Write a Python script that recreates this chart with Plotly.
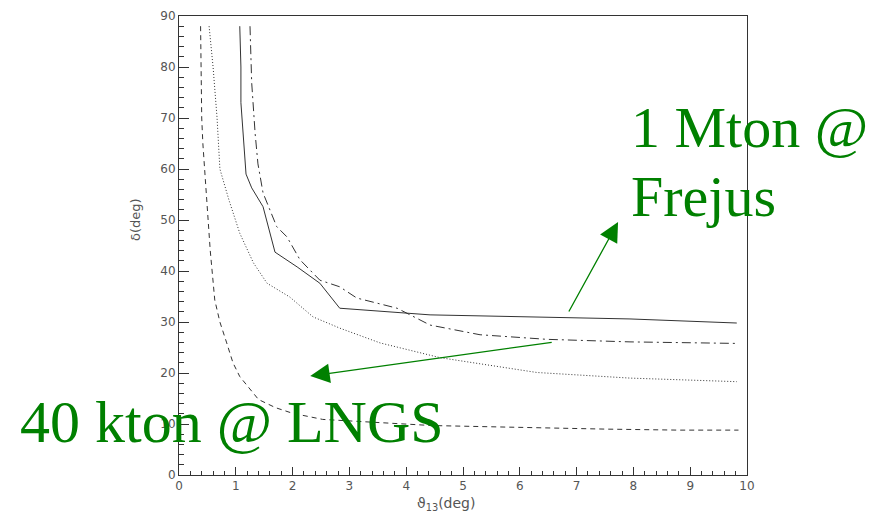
import plotly.graph_objects as go

# theta13 (deg) / delta (deg) sensitivity curves
x_dash = [0.38, 0.39, 0.40, 0.42, 0.44, 0.49, 0.55, 0.63, 0.72, 0.84, 0.95, 1.07, 1.25, 1.40, 1.70, 2.0, 2.53, 3.4, 4.45, 5.3, 6.5, 7.5, 8.8, 9.85]
y_dash = [88, 80, 70, 65, 61.8, 54, 44, 34.3, 30, 25.9, 22, 19.3, 16.8, 14.8, 13.2, 12.1, 10.9, 10.3, 9.7, 9.5, 9.2, 9.0, 8.8, 8.8]

x_dot = [0.53, 0.60, 0.67, 0.72, 0.88, 1.07, 1.31, 1.55, 1.95, 2.36, 2.83, 3.54, 4.6, 6.3, 7.94, 9.82]
y_dot = [88, 80, 70, 60, 53.9, 47.4, 41.6, 37.6, 34.9, 31, 28.8, 25.9, 23, 20.1, 19, 18.3]

x_solid = [1.07, 1.09, 1.09, 1.13, 1.18, 1.28, 1.39, 1.48, 1.69, 2.08, 2.48, 2.83, 4.42, 6.3, 7.94, 9.82]
y_solid = [88, 80, 73, 67, 59, 56.3, 54.3, 52.6, 43.7, 40.8, 37.6, 32.7, 31.4, 31.0, 30.6, 29.8]

x_dashdot = [1.25, 1.28, 1.34, 1.39, 1.48, 1.55, 1.72, 1.90, 2.13, 2.48, 2.83, 3.13, 3.84, 4.42, 5.3, 6.48, 7.94, 9.82]
y_dashdot = [88, 76.9, 67, 61, 55.3, 53.3, 48.7, 46.7, 42.2, 38.2, 36.9, 34.7, 32.7, 29.4, 27.5, 26.6, 26.1, 25.8]

x_ticks = [0, 1, 2, 3, 4, 5, 6, 7, 8, 9, 10]
y_ticks = [0, 10, 20, 30, 40, 50, 60, 70, 80, 90]

label_frejus = ["1 Mton @", "Frejus"]
label_lngs = "40 kton @ LNGS"

GREEN = "#008000"
LINE = "#333333"

fig = go.Figure()
fig.add_trace(go.Scatter(x=x_dash, y=y_dash, mode="lines",
                         line=dict(color=LINE, width=1, dash="5px,4px")))
fig.add_trace(go.Scatter(x=x_dot, y=y_dot, mode="lines",
                         line=dict(color=LINE, width=1, dash="1px,2px")))
fig.add_trace(go.Scatter(x=x_solid, y=y_solid, mode="lines",
                         line=dict(color=LINE, width=1)))
fig.add_trace(go.Scatter(x=x_dashdot, y=y_dashdot, mode="lines",
                         line=dict(color=LINE, width=1, dash="9px,4px,2px,4px")))

axis_common = dict(showline=True, linecolor=LINE, linewidth=1, mirror=True,
                   showgrid=False, zeroline=False, ticks="inside",
                   tickcolor=LINE, tickwidth=1,
                   tickfont=dict(family="DejaVu Sans", size=12, color="#555555"))

fig.update_xaxes(range=[0, 10], tickvals=x_ticks, ticklen=8,
                 minor=dict(dtick=0.2, ticks="inside", ticklen=4, tickcolor=LINE),
                 **axis_common)
fig.update_yaxes(range=[0, 90], tickvals=y_ticks, ticklen=10,
                 minor=dict(dtick=2, ticks="inside", ticklen=5, tickcolor=LINE),
                 **axis_common)

annotations = [
    dict(text="ϑ<sub>13</sub>(deg)", xref="x", yref="paper", x=4.7, y=0,
         yshift=-29, showarrow=False, xanchor="center", yanchor="middle",
         font=dict(family="DejaVu Sans", size=14, color="#555555")),
    dict(text="δ(deg)", xref="paper", yref="y", x=0, y=50, xshift=-44,
         showarrow=False, textangle=-90, xanchor="center", yanchor="middle",
         font=dict(family="DejaVu Sans", size=13, color="#555555")),
    dict(text=label_frejus[0], xref="x", yref="y", x=7.93, y=68.2, showarrow=False,
         xanchor="left", yanchor="middle",
         font=dict(family="Liberation Serif", size=58, color=GREEN)),
    dict(text=label_frejus[1], xref="x", yref="y", x=7.93, y=54.7, showarrow=False,
         xanchor="left", yanchor="middle",
         font=dict(family="Liberation Serif", size=58, color=GREEN)),
    dict(text=label_lngs, xref="paper", yref="paper", x=-0.283, y=10.3 / 90,
         showarrow=False, xanchor="left", yanchor="middle",
         font=dict(family="Liberation Serif", size=60, color=GREEN)),
    dict(text="", xref="x", yref="y", x=7.73, y=49.6, ax=-50, ay=91,
         showarrow=True, arrowhead=2, arrowsize=3, arrowwidth=1.3,
         arrowcolor=GREEN),
    dict(text="", xref="x", yref="y", x=2.31, y=19.4, ax=243, ay=-34,
         showarrow=True, arrowhead=2, arrowsize=3, arrowwidth=1.3,
         arrowcolor=GREEN),
]

shapes = [
    dict(type="rect", xref="paper", yref="paper", x0=1.2305, x1=1.2340,
         y0=0.4325, y1=0.4365, fillcolor=GREEN, line=dict(width=0)),
    dict(type="rect", xref="paper", yref="paper", x0=1.2305, x1=1.2340,
         y0=0.2030, y1=0.2070, fillcolor=GREEN, line=dict(width=0)),
]

# the page body adds an 8px offset, so margins are shifted by 8px
fig.update_layout(width=880, height=514, showlegend=False,
                  margin=dict(l=171, r=141, t=8, b=47, autoexpand=False),
                  paper_bgcolor="white", plot_bgcolor="white",
                  annotations=annotations, shapes=shapes)

fig.write_html("out.html")
